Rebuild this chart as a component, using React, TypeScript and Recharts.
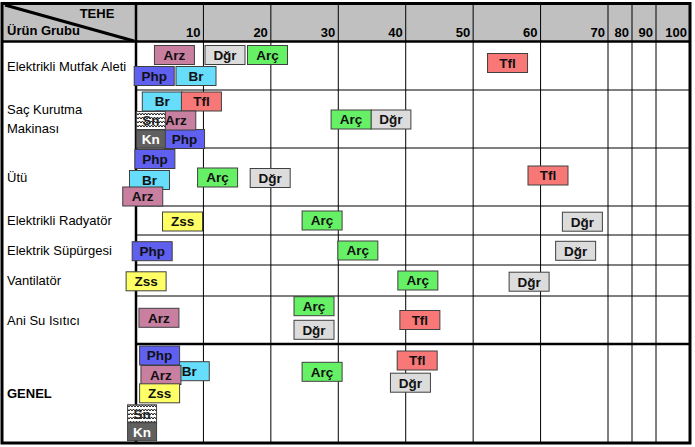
import { ScatterChart, Scatter, XAxis, YAxis, CartesianGrid, ReferenceLine } from 'recharts';

// TEHE ticks; the axis is squeezed above 70 like the original sheet
const tickValues = [10, 20, 30, 40, 50, 60, 70, 80, 90, 100];
const scaleKnots = [0, 70, 90, 100];
const axisKnots = [0, 70, 77.12, 82.16];

// product groups and the lane boundaries of each row (0 = top of plot)
const rowNames = [
  'Elektrikli Mutfak Aleti',
  'Saç Kurutma\nMakinası',
  'Ütü',
  'Elektrikli Radyatör',
  'Elektrik Süpürgesi',
  'Vantilatör',
  'Ani Su Isıtıcı',
  'GENEL',
];
const rowBounds = [0, 48, 106, 164, 193, 223, 254, 302, 401];

// x = TEHE value, y = vertical lane position
const arzPoints = [
  { x: 5.7, y: 13 }, { x: 5.9, y: 78.5 }, { x: 1.0, y: 154.5 }, { x: 3.4, y: 275.8 }, { x: 3.7, y: 333 },
];
const dgrPoints = [
  { x: 13.2, y: 13 }, { x: 37.8, y: 77.5 }, { x: 19.9, y: 136 }, { x: 66.2, y: 179.7 },
  { x: 65.2, y: 208.8 }, { x: 58.3, y: 239.7 }, { x: 26.4, y: 287.8 }, { x: 40.7, y: 340.7 },
];
const arcPoints = [
  { x: 19.5, y: 13 }, { x: 31.9, y: 77.5 }, { x: 12.1, y: 135.5 }, { x: 27.6, y: 178.5 },
  { x: 32.9, y: 208.5 }, { x: 41.8, y: 238.5 }, { x: 26.4, y: 264.2 }, { x: 27.6, y: 329.8 },
];
const phpPoints = [
  { x: 2.7, y: 34 }, { x: 7.2, y: 97 }, { x: 2.8, y: 117 }, { x: 2.4, y: 209.2 }, { x: 3.5, y: 313.5 },
];
const brPoints = [
  { x: 8.9, y: 34 }, { x: 3.9, y: 59.5 }, { x: 2.0, y: 138 }, { x: 7.9, y: 329.2 },
];
const tflPoints = [
  { x: 55.1, y: 21 }, { x: 9.7, y: 59.5 }, { x: 61.1, y: 133.5 }, { x: 42.1, y: 278 }, { x: 41.7, y: 318.5 },
];
const zssPoints = [
  { x: 6.9, y: 179.5 }, { x: 1.5, y: 239.3 }, { x: 3.5, y: 351.3 },
];
const snPoints = [
  { x: 2.2, y: 78.5 }, { x: 0.9, y: 371.8 },
];
const knPoints = [
  { x: 2.2, y: 97 }, { x: 0.9, y: 389.7 },
];

const FONT = "Arial, 'Liberation Sans', sans-serif";
const W = 695;
const H = 447;
const PLOT_LEFT = 136;
const PLOT_TOP = 42;
const PLOT_RIGHT = 690;
const PLOT_BOTTOM = 443;

function toAxis(v: number) {
  for (let i = 1; i < scaleKnots.length; i++) {
    if (v <= scaleKnots[i]) {
      const t = (v - scaleKnots[i - 1]) / (scaleKnots[i] - scaleKnots[i - 1]);
      return axisKnots[i - 1] + t * (axisKnots[i] - axisKnots[i - 1]);
    }
  }
  return axisKnots[axisKnots.length - 1];
}

const series = [
  { key: 'Br', data: brPoints, fill: '#66DDFA', color: '#111', w: 40, h: 19 },
  { key: 'Tfl', data: tflPoints, fill: '#F87878', color: '#111', w: 40, h: 19 },
  { key: 'Dğr', data: dgrPoints, fill: '#DCDCDC', color: '#111', w: 40, h: 19 },
  { key: 'Arç', data: arcPoints, fill: '#66F066', color: '#111', w: 40, h: 19 },
  { key: 'Php', data: phpPoints, fill: '#5F5FF0', color: '#111', w: 40, h: 19 },
  { key: 'Arz', data: arzPoints, fill: '#C87FA0', color: '#111', w: 40, h: 19 },
  { key: 'Zss', data: zssPoints, fill: '#FFFF66', color: '#111', w: 40, h: 19 },
  { key: 'Sn', data: snPoints, fill: 'url(#snWave)', color: '#222', w: 29, h: 18 },
  { key: 'Kn', data: knPoints, fill: '#606060', color: '#fff', w: 29, h: 18 },
];

const axisTicks = tickValues.map(toAxis);
const rowCenters = rowNames.map((_, i) => (rowBounds[i] + rowBounds[i + 1]) / 2);

function makeShape(s: (typeof series)[number]) {
  return (props: any) => {
    const { cx, cy } = props;
    return (
      <g>
        {s.key === 'Sn' && (
          <defs>
            <pattern id="snWave" width="6" height="4" patternUnits="userSpaceOnUse">
              <rect width="6" height="4" fill="#fff" />
              <path d="M0 3 L1.5 1 L3 3 L4.5 1 L6 3" stroke="#000" strokeWidth={0.9} fill="none" />
            </pattern>
          </defs>
        )}
        <rect x={cx - s.w / 2} y={cy - s.h / 2} width={s.w} height={s.h} fill={s.fill} stroke="#404040" strokeWidth={1} />
        <text x={cx} y={cy + 4.8} textAnchor="middle" fontFamily={FONT} fontSize={13.5} fontWeight="bold" fill={s.color}>
          {s.key}
        </text>
      </g>
    );
  };
}

function HeaderTick(props: any) {
  const { x, index } = props;
  return (
    <text x={x - 3} y={36.5} textAnchor="end" fontFamily={FONT} fontSize={13} fontWeight="bold" fill="#000">
      {tickValues[index]}
    </text>
  );
}

function RowTick(props: any) {
  const { y, index } = props;
  const lines = rowNames[index].split('\n');
  const bold = rowNames[index] === 'GENEL';
  return (
    <text x={7} y={y + 4.5 - (lines.length - 1) * 9.5} fontFamily={FONT} fontSize={13} fontWeight={bold ? 'bold' : 'normal'} fill="#000">
      {lines.map((l, i) => (
        <tspan key={i} x={7} dy={i === 0 ? 0 : 19}>{l}</tspan>
      ))}
    </text>
  );
}

export default function App() {
  return (
    <div style={{ position: 'absolute', left: 0, top: 0, width: W, height: H, background: '#fff' }}>
      <ScatterChart
        width={W}
        height={H}
        margin={{ top: 4, right: W - PLOT_RIGHT, bottom: H - PLOT_BOTTOM, left: 2 }}
      >
        <rect x={2} y={3.5} width={PLOT_RIGHT - 2} height={PLOT_TOP - 3.5} fill="#C0C0C0" />
        <XAxis
          type="number"
          dataKey="x"
          orientation="top"
          domain={[0, axisKnots[axisKnots.length - 1]]}
          ticks={axisTicks}
          interval={0}
          height={PLOT_TOP - 4}
          tickSize={PLOT_TOP - 4}
          tickLine={{ stroke: '#000', strokeWidth: 1 }}
          axisLine={false}
          tick={<HeaderTick />}
        />
        <YAxis
          type="number"
          dataKey="y"
          reversed
          domain={[0, rowBounds[rowBounds.length - 1]]}
          ticks={rowCenters}
          interval={0}
          width={PLOT_LEFT - 2}
          axisLine={false}
          tickLine={false}
          tick={<RowTick />}
        />
        {series.map((s) => (
          <Scatter
            key={s.key}
            name={s.key}
            data={s.data.map((p) => ({ x: toAxis(p.x), y: p.y }))}
            shape={makeShape(s)}
            isAnimationActive={false}
          />
        ))}
        <CartesianGrid horizontal={false} stroke="#000" strokeOpacity={1} />
        {rowBounds.slice(1, -1).map((b) => (
          <ReferenceLine key={b} y={b} stroke="#000" strokeWidth={rowBounds.indexOf(b) === 7 ? 2.5 : 1} />
        ))}
        <line x1={PLOT_LEFT} y1={3.5} x2={PLOT_LEFT} y2={PLOT_BOTTOM} stroke="#000" strokeWidth={2.5} />
        <line x1={2} y1={PLOT_TOP - 0.5} x2={PLOT_RIGHT} y2={PLOT_TOP - 0.5} stroke="#000" strokeWidth={2.5} />
        <line x1={5} y1={5} x2={PLOT_LEFT - 2} y2={PLOT_TOP - 1} stroke="#000" strokeWidth={3} />
        <text x={97} y={18} textAnchor="middle" fontFamily={FONT} fontSize={13} fontWeight="bold" fill="#000">TEHE</text>
        <text x={7} y={35} fontFamily={FONT} fontSize={13} fontWeight="bold" fill="#000">Ürün Grubu</text>
        <rect x={2} y={3.5} width={PLOT_RIGHT - 2} height={PLOT_BOTTOM - 3.5} fill="none" stroke="#000" strokeWidth={3} />
      </ScatterChart>
    </div>
  );
}
